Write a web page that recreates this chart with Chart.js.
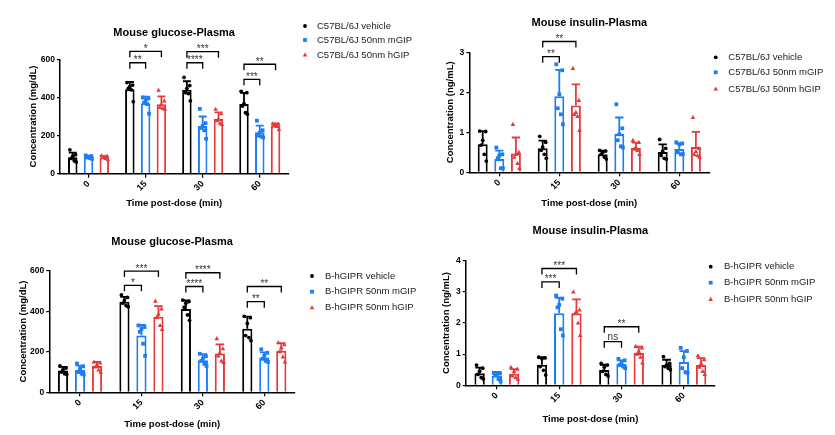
<!DOCTYPE html>
<html>
<head>
<meta charset="utf-8">
<script src="https://cdn.jsdelivr.net/npm/chart.js@4/dist/chart.umd.min.js"></script>
<style>
  html, body { margin: 0; padding: 0; background: #fff; }
  body { width: 835px; height: 435px; position: relative; overflow: hidden; }
  canvas { position: absolute; }
</style>
</head>
<body>
<canvas id="c1"></canvas>
<canvas id="c2"></canvas>
<canvas id="c3"></canvas>
<canvas id="c4"></canvas>
<script>
const times = ['0', '15', '30', '60'];
const wtNames = ['C57BL/6J vehicle', 'C57BL/6J 50nm mGIP', 'C57BL/6J 50nm hGIP'];
const hgNames = ['B-hGIPR vehicle', 'B-hGIPR 50nm mGIP', 'B-hGIPR 50nm hGIP'];

// glucose, C57BL/6J
const glcWtVehMean = [86, 443, 440, 366];
const glcWtVehSd = [25, 38, 45, 58];
const glcWtVehPts = [[125, 100, 92, 80, 68, 62], [478, 465, 456, 448, 440, 378], [505, 462, 448, 425, 420, 382], [432, 425, 368, 355, 320, 312]];
const glcWtMMean = [87, 370, 250, 217];
const glcWtMSd = [8, 34, 50, 35];
const glcWtMPts = [[96, 92, 88, 85, 82, 78], [400, 395, 385, 372, 365, 315], [340, 265, 250, 240, 228, 183], [278, 228, 215, 200, 195, 190]];
const glcWtHMean = [85, 364, 287, 252];
const glcWtHSd = [7, 42, 35, 12];
const glcWtHPts = [[95, 92, 88, 85, 80, 75], [438, 382, 362, 348, 342, 338], [338, 315, 285, 278, 265, 258], [262, 260, 257, 255, 248, 232]];
const glcWtSig = [[1, 1, 582, '**'], [1, 2, 642, '*'], [2, 1, 582, '****'], [2, 2, 640, '***'], [3, 1, 495, '***'], [3, 2, 574, '**']];

// insulin, C57BL/6J
const insWtVehMean = [0.70, 0.60, 0.45, 0.51];
const insWtVehSd = [0.33, 0.19, 0.09, 0.19];
const insWtVehPts = [[1.03, 1.02, 0.80, 0.68, 0.45, 0.28], [0.90, 0.75, 0.63, 0.55, 0.45, 0.35], [0.55, 0.53, 0.50, 0.45, 0.38, 0.33], [0.82, 0.60, 0.52, 0.42, 0.35, 0.33]];
const insWtMMean = [0.33, 1.90, 0.96, 0.58];
const insWtMSd = [0.21, 0.66, 0.41, 0.14];
const insWtMPts = [[0.62, 0.45, 0.42, 0.35, 0.10, 0.10], [2.70, 2.55, 1.95, 1.60, 1.45, 1.20], [1.70, 1.10, 0.95, 0.80, 0.65, 0.62], [0.75, 0.72, 0.70, 0.50, 0.45, 0.45]];
const insWtHMean = [0.47, 1.67, 0.61, 0.63];
const insWtHSd = [0.40, 0.53, 0.13, 0.38];
const insWtHPts = [[1.20, 0.50, 0.45, 0.38, 0.22, 0.10], [2.60, 1.80, 1.50, 1.45, 1.40, 1.05], [0.80, 0.75, 0.62, 0.58, 0.55, 0.45], [1.37, 0.60, 0.52, 0.45, 0.42, 0.38]];
const insWtSig = [[1, 1, 2.89, '**'], [1, 2, 3.27, '**']];

// glucose, B-hGIPR
const glcHgVehMean = [107, 447, 411, 313];
const glcHgVehSd = [18, 24, 42, 60];
const glcHgVehPts = [[130, 120, 112, 100, 92, 88], [480, 468, 455, 440, 428, 422], [455, 448, 440, 420, 382, 355], [375, 368, 340, 280, 270, 255]];
const glcHgMMean = [110, 280, 158, 172];
const glcHgMSd = [22, 52, 30, 25];
const glcHgMPts = [[142, 128, 115, 100, 92, 88], [330, 322, 312, 298, 240, 180], [190, 178, 165, 155, 140, 130], [212, 195, 180, 165, 155, 150]];
const glcHgHMean = [130, 373, 191, 205];
const glcHgHSd = [20, 52, 45, 38];
const glcHgHPts = [[150, 145, 135, 125, 110, 100], [450, 412, 385, 370, 330, 310], [265, 215, 195, 180, 155, 148], [245, 235, 220, 200, 175, 150]];
const glcHgSig = [[1, 1, 528, '*'], [1, 2, 598, '***'], [2, 1, 522, '****'], [2, 2, 590, '****'], [3, 1, 447, '**'], [3, 2, 522, '**']];

// insulin, B-hGIPR
const insHgVehMean = [0.39, 0.66, 0.49, 0.65];
const insHgVehSd = [0.18, 0.24, 0.17, 0.17];
const insHgVehPts = [[0.65, 0.55, 0.45, 0.35, 0.25, 0.20], [0.90, 0.88, 0.85, 0.60, 0.48, 0.33], [0.70, 0.65, 0.58, 0.45, 0.35, 0.30], [0.92, 0.70, 0.65, 0.60, 0.55, 0.50]];
const insHgMMean = [0.31, 2.31, 0.68, 0.75];
const insHgMSd = [0.12, 0.50, 0.12, 0.35];
const insHgMPts = [[0.40, 0.38, 0.37, 0.35, 0.20, 0.12], [2.88, 2.78, 2.58, 2.50, 1.80, 1.60], [0.85, 0.80, 0.72, 0.65, 0.60, 0.55], [1.20, 1.10, 0.90, 0.55, 0.42, 0.40]];
const insHgHMean = [0.37, 2.31, 1.04, 0.65];
const insHgHSd = [0.15, 0.45, 0.20, 0.22];
const insHgHPts = [[0.58, 0.52, 0.45, 0.30, 0.25, 0.20], [3.00, 2.42, 2.36, 2.30, 2.00, 1.60], [1.25, 1.20, 1.10, 1.00, 0.90, 0.72], [0.95, 0.82, 0.70, 0.58, 0.45, 0.35]];
const insHgSig = [[1, 1, 3.32, '***'], [1, 2, 3.75, '***'], [2, 1, 1.40, 'ns'], [2, 2, 1.88, '**']];

const FONT = "'Liberation Sans', Arial, sans-serif";
const COLORS = ['#000000', '#1b7ef7', '#e5393c'];
const STYLES = ['circle', 'rect', 'triangle'];
const CAT_PCT = 0.83, BAR_PCT = 0.6;
// horizontal spread of the dots, as a fraction of the bar width
const JITTER = [-0.3, 0.3, 0, -0.16, 0.16, 0.36];

const panels = [
  { id: 'c1', box: [0, 0, 420, 218], plot: [60, 288.3, 59.3, 173.7], titleY: 32.7, yTitleX: 33, xTitleY: 203.3,
    yMax: 600, yStep: 200, title: 'Mouse glucose-Plasma', yTitle: 'Concentration (mg/dL)', names: wtNames,
    means: [glcWtVehMean, glcWtMMean, glcWtHMean], sds: [glcWtVehSd, glcWtMSd, glcWtHSd],
    pts: [glcWtVehPts, glcWtMPts, glcWtHPts], sig: glcWtSig, legend: { x: 305, tx: 317, ys: [26, 40, 55] } },
  { id: 'c2', box: [420, 0, 415, 218], plot: [469.3, 709.3, 52.3, 172.3], titleY: 23.3, yTitleX: 450.7, xTitleY: 203.3,
    yMax: 3, yStep: 1, title: 'Mouse insulin-Plasma', yTitle: 'Concentration (ng/mL)', names: wtNames,
    means: [insWtVehMean, insWtMMean, insWtHMean], sds: [insWtVehSd, insWtMSd, insWtHSd],
    pts: [insWtVehPts, insWtMPts, insWtHPts], sig: insWtSig, legend: { x: 715.7, tx: 728.3, ys: [57.3, 72.3, 89] } },
  { id: 'c3', box: [0, 218, 430, 217], plot: [49.3, 295, 270.7, 392.3], titleY: 241.7, yTitleX: 23.3, xTitleY: 424,
    yMax: 600, yStep: 200, title: 'Mouse glucose-Plasma', yTitle: 'Concentration (mg/dL)', names: hgNames,
    means: [glcHgVehMean, glcHgMMean, glcHgHMean], sds: [glcHgVehSd, glcHgMSd, glcHgHSd],
    pts: [glcHgVehPts, glcHgMPts, glcHgHPts], sig: glcHgSig, legend: { x: 312, tx: 325, ys: [276, 291.7, 307.7] } },
  { id: 'c4', box: [420, 218, 415, 217], plot: [465.7, 715, 260.7, 385.3], titleY: 231, yTitleX: 446, xTitleY: 419,
    yMax: 4, yStep: 1, title: 'Mouse insulin-Plasma', yTitle: 'Concentration (ng/mL)', names: hgNames,
    means: [insHgVehMean, insHgMMean, insHgHMean], sds: [insHgVehSd, insHgMSd, insHgHSd],
    pts: [insHgVehPts, insHgMPts, insHgHPts], sig: insHgSig, legend: { x: 710.7, tx: 724, ys: [266.7, 282.7, 299.3] } }
];

function marker(ctx, style, x, y, color) {
  ctx.fillStyle = color;
  ctx.beginPath();
  if (style === 'circle') ctx.arc(x, y, 1.9, 0, Math.PI * 2);
  else if (style === 'rect') ctx.rect(x - 1.9, y - 1.9, 3.8, 3.8);
  else { ctx.moveTo(x, y - 2.5); ctx.lineTo(x + 2.3, y + 1.6); ctx.lineTo(x - 2.3, y + 1.6); ctx.closePath(); }
  ctx.fill();
}

function build(p) {
  const [bx, by, bw, bh] = p.box;
  const [L, R, T, B] = p.plot;
  const cv = document.getElementById(p.id);
  cv.width = bw; cv.height = bh;
  cv.style.left = bx + 'px'; cv.style.top = by + 'px';
  cv.style.width = bw + 'px'; cv.style.height = bh + 'px';

  const titleLH = 11 * 1.2, axLH = 9.5 * 1.2;
  const yAxisLeft = p.yTitleX - axLH / 2;
  const yW = L - yAxisLeft;
  const xH = p.xTitleY + axLH / 2 - B;
  const titleTop = p.titleY - titleLH / 2 - by;
  const titleBottom = T - by - titleTop - titleLH;

  const datasets = p.means.map((m, k) => ({
    label: p.names[k], data: m,
    backgroundColor: '#ffffff', borderColor: COLORS[k], borderWidth: 2, borderSkipped: 'start',
    categoryPercentage: CAT_PCT, barPercentage: BAR_PCT
  }));

  const extras = {
    id: 'extras' + p.id,
    // upward SD bar right after each bar series
    afterDatasetDraw(chart, args) {
      const k = args.index;
      const ys = chart.scales.y, ctx = chart.ctx;
      ctx.save();
      ctx.strokeStyle = COLORS[k];
      ctx.lineWidth = 1.8;
      args.meta.data.forEach((bar, i) => {
        const top = ys.getPixelForValue(p.means[k][i] + p.sds[k][i]);
        const half = bar.width * 0.42;
        ctx.beginPath();
        ctx.moveTo(bar.x, bar.y); ctx.lineTo(bar.x, top);
        ctx.moveTo(bar.x - half, top); ctx.lineTo(bar.x + half, top);
        ctx.stroke();
      });
      ctx.restore();
    },
    // individual animals
    afterDatasetsDraw(chart) {
      const ys = chart.scales.y, ctx = chart.ctx;
      ctx.save();
      for (let k = 0; k < 3; k++) {
        chart.getDatasetMeta(k).data.forEach((bar, i) => {
          p.pts[k][i].forEach((v, j) => {
            marker(ctx, STYLES[k], bar.x + JITTER[j % JITTER.length] * bar.width, ys.getPixelForValue(v), COLORS[k]);
          });
        });
      }
      ctx.restore();
    },
    afterDraw(chart) {
      const ys = chart.scales.y, ctx = chart.ctx;
      ctx.save();
      ctx.strokeStyle = '#000';
      ctx.lineWidth = 1.3;
      ctx.font = '10px ' + FONT;
      ctx.textAlign = 'center';
      ctx.textBaseline = 'alphabetic';
      p.sig.forEach(([cat, ser, val, label]) => {
        const x0 = chart.getDatasetMeta(0).data[cat].x;
        const x1 = chart.getDatasetMeta(ser).data[cat].x;
        const yy = ys.getPixelForValue(val);
        ctx.beginPath();
        ctx.moveTo(x0, yy + 6); ctx.lineTo(x0, yy); ctx.lineTo(x1, yy); ctx.lineTo(x1, yy + 6);
        ctx.stroke();
        ctx.fillStyle = '#333';
        ctx.fillText(label, (x0 + x1) / 2, label === 'ns' ? yy - 2 : yy + 0.5);
      });
      // legend
      ctx.textAlign = 'left';
      ctx.textBaseline = 'middle';
      ctx.font = '9.5px ' + FONT;
      p.names.forEach((name, k) => {
        const y = p.legend.ys[k] - by;
        marker(ctx, STYLES[k], p.legend.x - bx, y, COLORS[k]);
        ctx.fillStyle = '#222';
        ctx.fillText(name, p.legend.tx - bx, y);
      });
      ctx.restore();
    }
  };

  new Chart(cv, {
    type: 'bar',
    data: { labels: times, datasets },
    options: {
      responsive: false,
      animation: false,
      devicePixelRatio: 1,
      layout: { padding: { left: yAxisLeft - bx, right: bx + bw - R, top: 0, bottom: by + bh - B - xH } },
      plugins: {
        legend: { display: false },
        tooltip: { enabled: false },
        title: {
          display: true, text: p.title, fullSize: false, color: '#000',
          padding: { top: titleTop, bottom: titleBottom },
          font: { family: FONT, size: 11, weight: 'bold', lineHeight: 1.2 }
        }
      },
      scales: {
        x: {
          afterFit(s) { s.height = xH; },
          grid: { drawOnChartArea: false, drawTicks: true, tickLength: 4, offset: false, color: '#000', lineWidth: 1.2 },
          border: { color: '#000', width: 1.5 },
          ticks: { color: '#000', autoSkip: false, minRotation: 45, maxRotation: 45, padding: 1,
                   font: { family: FONT, size: 9, weight: 'bold' } },
          title: { display: true, text: 'Time post-dose (min)', color: '#000', padding: 0,
                   font: { family: FONT, size: 9.5, weight: 'bold', lineHeight: 1.2 } }
        },
        y: {
          min: 0, max: p.yMax,
          afterFit(s) { s.width = yW; },
          grid: { drawOnChartArea: false, drawTicks: true, tickLength: 3, color: '#000', lineWidth: 1.2 },
          border: { color: '#000', width: 1.5 },
          ticks: { stepSize: p.yStep, color: '#000', padding: 2, font: { family: FONT, size: 8.5, weight: 'bold' } },
          title: { display: true, text: p.yTitle, color: '#000', padding: 0,
                   font: { family: FONT, size: 9.5, weight: 'bold', lineHeight: 1.2 } }
        }
      }
    },
    plugins: [extras]
  });
}

panels.forEach(build);
</script>
</body>
</html>
